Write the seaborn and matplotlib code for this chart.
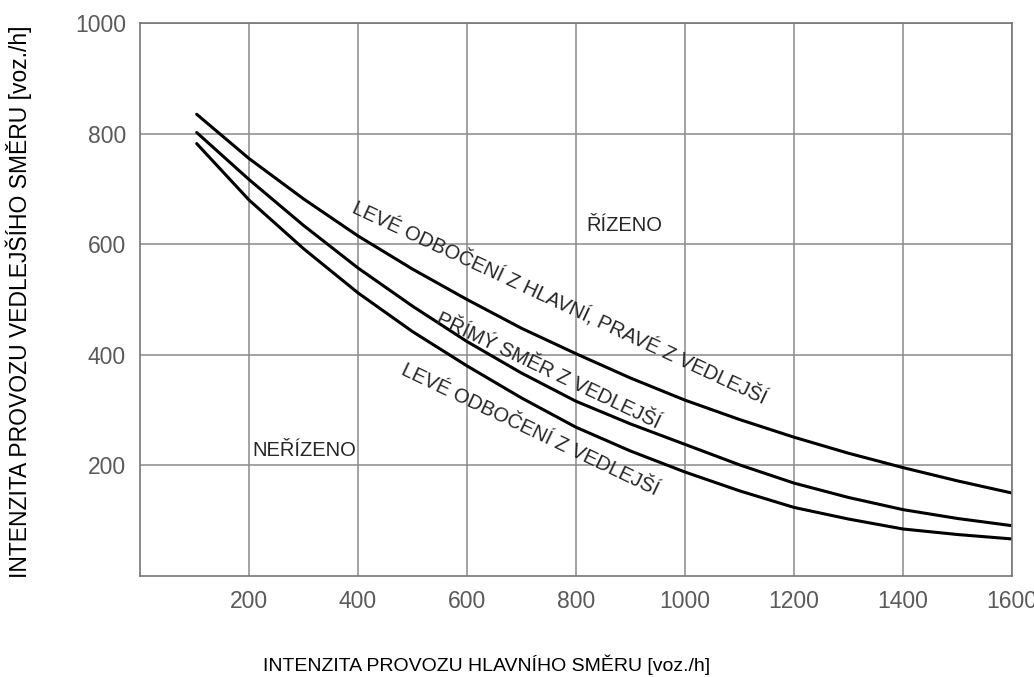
import pandas as pd
import seaborn as sns
import matplotlib.pyplot as plt

# Values
x_main = [104, 200, 300, 400, 500, 600, 700, 800, 900, 1000, 1100, 1200, 1300, 1400, 1500, 1600]
y_left_main_right_side = [835, 755, 682, 615, 555, 500, 448, 402, 358, 318, 283, 251, 222, 196, 172, 150]
y_straight_side = [802, 717, 634, 557, 488, 424, 367, 316, 275, 238, 201, 168, 142, 120, 104, 91]
y_left_side = [782, 680, 592, 512, 442, 380, 322, 269, 226, 188, 154, 124, 103, 85, 75, 67]

curve_names = [
    "LEVÉ ODBOČENÍ Z HLAVNÍ, PRAVÉ Z VEDLEJŠÍ",
    "PŘÍMÝ SMĚR Z VEDLEJŠÍ",
    "LEVÉ ODBOČENÍ Z VEDLEJŠÍ",
]
x_ticks = [200, 400, 600, 800, 1000, 1200, 1400, 1600]
y_ticks = [200, 400, 600, 800, 1000]

df = pd.DataFrame({
    "x": x_main * 3,
    "y": y_left_main_right_side + y_straight_side + y_left_side,
    "curve": [n for n in curve_names for _ in x_main],
})

sns.set_theme(style="white")
plt.rcParams["font.family"] = ["Liberation Sans", "DejaVu Sans"]

fig = plt.figure(figsize=(10.34, 6.77), dpi=100)
ax = fig.add_axes([0.1354, 0.1492, 0.8433, 0.8168])

sns.lineplot(
    data=df, x="x", y="y", hue="curve",
    palette=["black"] * 3, linewidth=2.2, legend=False, ax=ax,
)

ax.set_xlim(0, 1600)
ax.set_ylim(0, 1000)
ax.set_xticks(x_ticks)
ax.set_yticks(y_ticks)
ax.tick_params(axis="both", length=0, labelsize=16.5, labelcolor="#5a5a5a", pad=10)
ax.grid(True, color="#8a8a8a", linewidth=1.1)
for s in ax.spines.values():
    s.set_color("#777777")
    s.set_linewidth(1.2)
ax.set_xlabel("")
ax.set_ylabel("")

fig.text(0.018, 0.555, "INTENZITA PROVOZU VEDLEJŠÍHO SMĚRU [voz./h]",
         rotation=90, ha="center", va="center", fontsize=16.5, color="black")
fig.text(0.471, 0.018, "INTENZITA PROVOZU HLAVNÍHO SMĚRU [voz./h]",
         ha="center", va="center", fontsize=14, color="black")

ax.text(889, 633, "ŘÍZENO", ha="center", va="center", fontsize=14.5)
ax.text(302, 227, "NEŘÍZENO", ha="center", va="center", fontsize=14.5)

ax.text(771, 496, curve_names[0], rotation=-25, ha="center", va="center",
        fontsize=14.5, rotation_mode="anchor")
ax.text(749, 371, curve_names[1], rotation=-25.5, ha="center", va="center",
        fontsize=14.5, rotation_mode="anchor")
ax.text(716, 264, curve_names[2], rotation=-25.5, ha="center", va="center",
        fontsize=14.5, rotation_mode="anchor")

fig.savefig("out.png", dpi=100)
